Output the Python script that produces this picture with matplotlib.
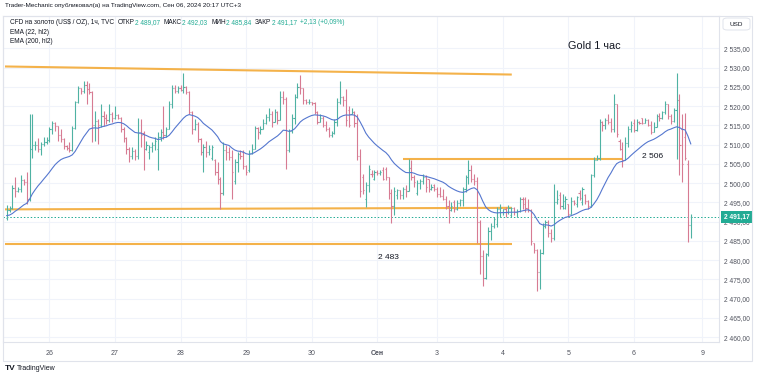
import matplotlib
matplotlib.use("Agg")
import matplotlib.pyplot as plt
import matplotlib.transforms as mtransforms
from matplotlib.collections import LineCollection
from matplotlib.patches import Rectangle, FancyBboxPatch
import numpy as np

plt.rcParams['font.family'] = ['Liberation Sans', 'DejaVu Sans']

# =============================================================================
# Data: XAUUSD 1h bars (open, high, low, close), one list per trading day
# =============================================================================
aug23 = [(2491.0, 2494.3, 2490.4, 2493.0), (2493.0, 2494.0, 2492.6, 2493.6), (2493.6, 2499.4, 2493.4, 2498.8),
         (2498.8, 2501.6, 2496.4, 2498.0), (2498.0, 2499.0, 2497.6, 2498.6), (2498.6, 2502.0, 2497.8, 2500.8),
         (2500.8, 2501.2, 2499.6, 2500.2), (2500.2, 2503.0, 2494.7, 2496.0), (2496.0, 2518.0, 2495.5, 2509.0),
         (2509.0, 2518.0, 2506.5, 2510.0), (2510.0, 2511.0, 2508.5, 2510.0), (2510.0, 2511.6, 2508.0, 2509.0),
         (2509.0, 2510.6, 2507.2, 2510.2), (2510.2, 2511.9, 2509.6, 2510.8), (2510.8, 2511.9, 2510.2, 2511.2)]
aug26 = [(2511.2, 2514.5, 2510.8, 2514.0), (2514.0, 2516.2, 2512.7, 2515.6), (2515.6, 2515.8, 2513.6, 2514.8),
         (2514.8, 2514.9, 2511.0, 2512.4), (2512.4, 2514.0, 2510.6, 2511.4), (2511.4, 2511.6, 2508.9, 2509.6),
         (2509.6, 2510.0, 2508.5, 2509.2), (2509.2, 2510.6, 2508.0, 2508.6), (2508.6, 2514.9, 2508.4, 2514.2),
         (2514.2, 2521.3, 2514.0, 2521.0), (2521.0, 2525.2, 2520.8, 2524.6), (2524.6, 2524.8, 2523.1, 2524.0),
         (2524.0, 2526.5, 2523.5, 2525.6), (2525.6, 2526.4, 2520.5, 2524.4), (2524.4, 2526.0, 2523.1, 2523.8),
         (2523.8, 2524.0, 2510.6, 2515.0), (2515.0, 2518.8, 2511.0, 2516.2), (2516.2, 2516.6, 2510.2, 2515.0),
         (2515.0, 2520.5, 2514.5, 2517.4), (2517.4, 2518.8, 2514.9, 2516.8), (2516.8, 2517.9, 2515.3, 2516.4),
         (2516.4, 2520.5, 2516.0, 2518.0), (2518.0, 2518.4, 2515.8, 2517.0)]
aug27 = [(2517.0, 2520.0, 2516.6, 2517.8), (2517.8, 2518.0, 2516.6, 2517.0), (2517.0, 2517.2, 2513.2, 2514.0),
         (2514.0, 2514.6, 2510.6, 2511.6), (2511.6, 2511.9, 2507.6, 2508.8), (2508.8, 2509.3, 2505.4, 2507.0),
         (2507.0, 2509.3, 2506.4, 2508.4), (2508.4, 2508.8, 2505.9, 2507.0), (2507.0, 2517.0, 2506.3, 2513.0),
         (2513.0, 2516.6, 2509.3, 2512.6), (2513.0, 2513.5, 2503.3, 2509.0), (2509.0, 2511.0, 2508.5, 2510.0),
         (2508.0, 2509.8, 2506.3, 2509.4), (2509.4, 2510.6, 2508.0, 2509.8), (2509.8, 2511.9, 2508.5, 2511.0),
         (2509.0, 2513.2, 2503.3, 2512.0), (2512.0, 2514.0, 2511.0, 2513.4), (2513.4, 2520.0, 2511.5, 2512.5),
         (2512.5, 2514.5, 2511.9, 2514.0), (2514.0, 2521.3, 2514.0, 2520.5), (2520.5, 2525.6, 2519.6, 2524.8),
         (2524.8, 2525.6, 2523.5, 2524.0), (2524.0, 2525.2, 2523.5, 2524.6)]
aug28 = [(2524.6, 2525.6, 2523.9, 2524.2), (2524.2, 2528.6, 2523.5, 2525.0), (2525.0, 2525.2, 2523.1, 2523.8),
         (2523.8, 2523.9, 2517.9, 2518.6), (2518.6, 2518.8, 2512.7, 2514.0), (2514.0, 2516.6, 2513.8, 2515.4),
         (2515.4, 2515.8, 2510.6, 2511.4), (2511.4, 2511.6, 2507.2, 2508.2), (2508.0, 2510.2, 2502.9, 2509.4),
         (2509.4, 2511.0, 2506.7, 2508.0), (2508.0, 2509.8, 2507.2, 2509.0), (2506.5, 2509.8, 2505.9, 2509.4),
         (2506.0, 2506.3, 2502.0, 2503.0), (2503.0, 2505.4, 2499.9, 2501.0), (2501.0, 2501.6, 2493.4, 2497.5),
         (2497.5, 2510.6, 2497.0, 2508.5), (2508.5, 2509.8, 2505.9, 2508.0), (2508.0, 2509.3, 2505.9, 2506.8),
         (2506.8, 2508.5, 2496.0, 2503.0), (2500.5, 2506.3, 2499.9, 2505.6), (2505.6, 2508.0, 2502.9, 2507.5),
         (2507.5, 2508.5, 2506.3, 2507.0), (2508.0, 2508.5, 2503.7, 2504.5)]
aug29 = [(2504.5, 2504.6, 2502.0, 2502.8), (2503.3, 2508.5, 2503.0, 2507.8), (2507.8, 2510.2, 2507.6, 2509.0),
         (2509.0, 2514.9, 2509.0, 2514.2), (2514.2, 2514.5, 2511.5, 2513.4), (2513.4, 2514.9, 2512.7, 2514.0),
         (2514.0, 2516.6, 2514.0, 2515.6), (2515.6, 2517.9, 2515.3, 2517.2), (2517.2, 2519.6, 2516.2, 2518.0),
         (2518.0, 2518.8, 2514.5, 2516.0), (2516.0, 2519.2, 2515.8, 2518.5), (2518.5, 2518.8, 2515.3, 2516.4),
         (2516.4, 2523.9, 2516.4, 2522.5), (2522.5, 2523.9, 2520.5, 2521.8), (2521.8, 2522.3, 2503.7, 2508.5),
         (2508.5, 2514.0, 2508.0, 2513.5), (2513.5, 2517.9, 2513.0, 2517.0), (2517.0, 2523.1, 2515.3, 2522.4),
         (2522.4, 2526.0, 2522.0, 2525.0), (2525.0, 2528.2, 2523.1, 2524.6), (2524.6, 2524.8, 2520.5, 2521.5),
         (2521.5, 2521.8, 2520.5, 2521.0), (2521.0, 2521.8, 2520.5, 2521.2)]
aug30 = [(2521.2, 2521.2, 2520.4, 2520.8), (2520.8, 2521.0, 2517.9, 2518.6), (2518.6, 2518.8, 2515.3, 2516.0),
         (2516.0, 2517.9, 2515.8, 2516.8), (2516.8, 2517.5, 2514.5, 2515.0), (2515.0, 2516.2, 2513.6, 2514.0),
         (2514.0, 2514.5, 2511.9, 2512.4), (2512.4, 2513.6, 2511.9, 2513.0), (2513.0, 2516.6, 2512.7, 2516.0),
         (2516.0, 2522.2, 2514.9, 2521.0), (2521.0, 2526.5, 2520.5, 2522.5), (2522.5, 2522.6, 2520.1, 2521.5),
         (2521.5, 2524.4, 2514.9, 2516.5), (2519.0, 2520.0, 2514.5, 2515.0), (2518.0, 2519.6, 2517.9, 2518.6),
         (2518.6, 2518.8, 2514.5, 2515.6), (2515.6, 2517.9, 2505.9, 2507.0), (2507.0, 2508.9, 2496.4, 2498.0),
         (2501.5, 2502.4, 2497.3, 2498.2), (2496.0, 2500.3, 2493.8, 2499.5), (2499.5, 2504.6, 2497.7, 2503.8),
         (2502.5, 2503.3, 2501.6, 2502.4), (2501.2, 2503.3, 2500.7, 2503.0)]
sep02 = [(2503.0, 2503.4, 2502.0, 2502.6), (2502.6, 2503.3, 2502.0, 2502.8), (2503.5, 2504.2, 2500.7, 2501.2),
         (2503.8, 2504.2, 2500.7, 2501.5), (2501.5, 2501.6, 2496.0, 2497.5), (2497.5, 2498.6, 2489.7, 2494.0),
         (2494.0, 2499.0, 2491.7, 2498.0), (2497.0, 2498.6, 2496.0, 2498.2), (2498.2, 2498.2, 2496.0, 2497.0),
         (2497.0, 2499.0, 2496.0, 2498.6), (2498.6, 2499.4, 2496.4, 2498.0), (2498.0, 2506.3, 2497.9, 2504.0),
         (2504.0, 2505.9, 2500.7, 2501.5), (2501.5, 2502.0, 2499.0, 2500.2), (2497.5, 2500.7, 2496.9, 2500.0),
         (2500.0, 2501.2, 2498.6, 2500.6), (2500.6, 2502.4, 2499.9, 2501.6), (2501.6, 2502.0, 2497.7, 2499.0),
         (2501.0, 2501.2, 2497.7, 2498.5), (2498.5, 2499.9, 2498.2, 2499.0), (2499.5, 2499.9, 2498.0, 2498.4)]
sep03 = [(2498.4, 2499.0, 2496.4, 2497.2), (2497.2, 2499.0, 2496.4, 2496.8), (2496.8, 2498.6, 2495.6, 2496.0),
         (2496.0, 2496.8, 2493.4, 2494.2), (2494.2, 2495.6, 2489.6, 2493.0), (2493.0, 2495.1, 2492.8, 2494.0),
         (2495.0, 2495.6, 2492.6, 2493.2), (2493.2, 2495.6, 2493.0, 2494.8), (2494.8, 2496.0, 2494.0, 2495.6),
         (2495.6, 2499.0, 2494.0, 2498.5), (2498.5, 2502.0, 2497.7, 2501.5), (2501.5, 2505.9, 2499.9, 2503.5),
         (2503.5, 2504.6, 2500.3, 2501.0), (2501.0, 2502.4, 2499.4, 2500.5), (2500.5, 2501.6, 2484.4, 2490.0),
         (2490.0, 2490.5, 2476.5, 2481.0), (2481.0, 2482.7, 2473.2, 2475.5), (2475.5, 2482.0, 2475.0, 2481.5),
         (2481.5, 2488.7, 2481.0, 2487.5), (2487.5, 2489.6, 2485.3, 2489.0), (2489.0, 2491.3, 2488.3, 2490.6),
         (2489.5, 2493.8, 2488.7, 2493.2), (2493.2, 2494.7, 2491.3, 2493.5)]
sep04 = [(2492.6, 2493.4, 2491.7, 2493.2), (2493.2, 2493.9, 2491.3, 2492.5), (2492.5, 2494.3, 2492.1, 2493.6),
         (2491.8, 2493.9, 2491.3, 2493.5), (2493.5, 2493.9, 2491.7, 2492.4), (2492.4, 2493.4, 2491.3, 2492.8),
         (2492.8, 2496.4, 2492.6, 2495.8), (2495.8, 2496.4, 2493.4, 2494.6), (2496.0, 2496.4, 2492.6, 2493.5),
         (2493.5, 2496.0, 2492.6, 2493.0), (2493.0, 2493.4, 2484.0, 2485.0), (2484.5, 2484.6, 2481.8, 2482.6),
         (2482.6, 2483.0, 2471.9, 2477.0), (2477.0, 2482.8, 2472.5, 2482.0), (2482.0, 2489.6, 2481.6, 2489.0),
         (2489.0, 2490.4, 2488.3, 2489.8), (2490.0, 2490.4, 2486.1, 2487.0), (2487.0, 2488.0, 2484.8, 2485.8),
         (2485.8, 2499.9, 2485.3, 2495.0), (2495.0, 2498.2, 2494.6, 2496.0), (2497.0, 2497.7, 2493.4, 2494.0),
         (2494.0, 2497.3, 2493.4, 2495.5), (2493.5, 2496.8, 2493.4, 2496.0)]
sep05 = [(2494.7, 2494.7, 2491.3, 2492.0), (2492.0, 2496.4, 2491.9, 2495.5), (2495.5, 2495.6, 2494.3, 2494.8),
         (2494.5, 2496.8, 2493.8, 2496.5), (2497.5, 2498.2, 2495.6, 2496.2), (2495.0, 2499.0, 2494.3, 2498.4),
         (2497.0, 2497.3, 2494.7, 2495.5), (2495.5, 2495.6, 2493.4, 2494.0), (2494.0, 2502.4, 2493.8, 2502.0),
         (2502.0, 2506.7, 2501.6, 2506.0), (2506.0, 2507.2, 2505.9, 2506.5), (2506.5, 2516.6, 2505.9, 2516.0),
         (2516.0, 2516.2, 2513.6, 2515.0), (2515.0, 2517.0, 2514.0, 2516.4), (2516.4, 2517.9, 2515.3, 2516.0),
         (2516.0, 2517.0, 2513.2, 2514.0), (2514.0, 2523.1, 2513.2, 2520.5), (2520.5, 2520.5, 2511.9, 2512.8),
         (2511.0, 2511.4, 2508.5, 2509.0), (2509.0, 2510.6, 2504.2, 2506.0), (2506.0, 2511.9, 2505.9, 2510.5),
         (2510.5, 2514.9, 2509.3, 2514.0), (2514.0, 2516.2, 2513.2, 2515.0)]
sep06 = [(2515.6, 2516.6, 2513.2, 2513.8), (2513.8, 2516.6, 2513.6, 2516.0), (2516.0, 2516.2, 2515.3, 2515.6),
         (2516.8, 2517.0, 2515.3, 2515.6), (2515.6, 2517.0, 2515.5, 2516.4), (2516.4, 2516.6, 2514.9, 2515.2),
         (2515.2, 2516.2, 2512.7, 2513.2), (2513.2, 2515.8, 2513.2, 2514.6), (2514.6, 2517.9, 2514.5, 2517.5),
         (2517.5, 2518.3, 2516.2, 2517.0), (2517.0, 2518.8, 2516.6, 2518.4), (2518.4, 2521.3, 2517.9, 2520.5),
         (2520.5, 2520.5, 2516.6, 2517.5), (2517.5, 2517.9, 2515.3, 2516.2), (2516.2, 2519.6, 2516.0, 2519.0),
         (2519.0, 2528.6, 2506.3, 2521.5), (2521.5, 2523.1, 2502.0, 2510.0), (2514.0, 2517.9, 2500.3, 2505.0),
         (2512.0, 2518.3, 2505.9, 2506.5), (2505.0, 2505.9, 2484.8, 2489.04), (2489.07, 2492.03, 2485.84, 2491.17)]

days = [aug23, aug26, aug27, aug28, aug29, aug30, sep02, sep03, sep04, sep05, sep06]
day_labels = ["26", "27", "28", "29", "30", "Сен", "3", "4", "5", "6"]
next_day_label = "9"          # Monday, after 3 more hourly slots on Friday
next_day_gap = 3

ema_len = 22                  # EMA (22, hl2)
ema_seed = 2491.5             # EMA value at the left edge of the screenshot

# hand-drawn levels: (bar index, price) endpoints
level_top = [(-0.6, 2530.3), (177.2, 2528.2)]
level_mid = [(-0.6, 2493.2), (177.2, 2493.6)]
level_low = [(-0.6, 2484.1), (177.2, 2484.1)]
level_2506 = [(139.2, 2506.4), (215.8, 2506.4)]

price_ticks = np.arange(2460, 2536, 5)

# =============================================================================
# Prepare arrays
# =============================================================================
bars = np.array([b for d in days for b in d])
opens, highs, lows, closes = bars.T
n = len(bars)
idx = np.arange(n)

starts = np.cumsum([len(d) for d in days])[:-1]
xticks = list(starts) + [n + next_day_gap]
xlabels = day_labels + [next_day_label]

hl2 = (highs + lows) / 2
alpha = 2 / (ema_len + 1)
ema = []
prev = ema_seed
for v in hl2:
    prev = prev + alpha * (v - prev)
    ema.append(prev)


def fmt_price(v):
    return f"{v:,.2f}".replace(",", " ").replace(".", ",")


# =============================================================================
# Figure
# =============================================================================
W, H = 758, 379
fig = plt.figure(figsize=(W / 100, H / 100), dpi=100)
ax = fig.add_axes([3 / W, 1 - 341.5 / H, (719 - 3) / W, (341.5 - 16) / H])

GREEN = '#4fb2a3'
RED = '#d77b92'
TEAL = '#22ab94'
TXT = '#131722'
AXTXT = '#50535e'
GRID = '#f0f3fa'
BORDER = '#e0e3eb'

ax.set_xlim(-1.3, 249.9)
ax.set_ylim(2458.9, 2543.4)

# OHLC bars
tk = 0.4
segs, cols = [], []
for i in idx:
    c = GREEN if closes[i] >= opens[i] else RED
    segs += [[(i, lows[i]), (i, highs[i])],
             [(i - tk, opens[i]), (i, opens[i])],
             [(i, closes[i]), (i + tk, closes[i])]]
    cols += [c] * 3
ax.add_collection(LineCollection(segs, colors=cols, linewidths=0.8, zorder=3))

# EMA line
ax.plot(idx, ema, color='#5577cf', lw=0.8, zorder=4)

# orange levels
for lv in [level_top, level_mid, level_low, level_2506]:
    xs, ys = zip(*lv)
    ax.plot(xs, ys, color='#f4b24a', lw=1.5, solid_capstyle='butt', zorder=2)

# last price line
ax.axhline(closes[-1], color=TEAL, lw=0.7, ls=(0, (1.5, 2)), zorder=1)

ax.text(130.3, 2480.6, "2 483", fontsize=6, color=TXT, va='center', ha='left')
ax.text(222.9, 2506.8, "2 506", fontsize=6, color=TXT, va='center', ha='left')
ax.text(196.9, 2535.6, "Gold 1 час", fontsize=7.8, color=TXT, va='center', ha='left')

# axes styling
ax.set_xticks(xticks, xlabels)
ax.set_yticks(price_ticks, [fmt_price(v) for v in price_ticks])
ax.yaxis.tick_right()
ax.tick_params(axis='x', length=0, pad=5.8, labelsize=5.0, labelcolor=AXTXT)
ax.tick_params(axis='y', length=0, pad=3.6, labelsize=4.8, labelcolor=AXTXT)
for lab in ax.get_xticklabels():
    if lab.get_text() == "Сен":
        lab.set_fontweight('bold')
ax.grid(True, color=GRID, lw=0.8)
ax.set_axisbelow(True)
for s in ax.spines.values():
    s.set_color(BORDER)
    s.set_linewidth(0.8)

# outer frame around chart, price scale and time scale
fig.patches.append(Rectangle((3 / W, 1 - 360.5 / H), 749 / W, 344.5 / H,
                             transform=fig.transFigure, fill=False, ec=BORDER, lw=0.8))

# last price tag on the price scale
blend = mtransforms.blended_transform_factory(ax.transAxes, ax.transData)
ax.text(1.0 + 4.5 / 716, closes[-1], fmt_price(closes[-1]), transform=blend, clip_on=False,
        ha='left', va='center', fontsize=4.8, color='white', fontweight='bold', zorder=6,
        bbox=dict(boxstyle='square,pad=0.35', fc=TEAL, ec='none'))

# USD box
fig.patches.append(FancyBboxPatch((723 / W, 1 - 30 / H), 27 / W, 12 / H,
                                  boxstyle='round,pad=0,rounding_size=0.006',
                                  transform=fig.transFigure, fc='white', ec=BORDER, lw=0.7))
fig.text(736.5 / W, 1 - 24 / H, "USD", fontsize=4.6, color=TXT, ha='center', va='center')

# header text
fig.canvas.draw()
rend = fig.canvas.get_renderer()


def put(x, y, s, color, size=4.7, **kw):
    t = fig.text(x / W, 1 - y / H, s, color=color, fontsize=size, ha='left', va='center', **kw)
    return x + t.get_window_extent(renderer=rend).width


fig.text(5 / W, 1 - 6 / H, "Trader-Mechanic опубликовал(а) на TradingView.com, Сен 06, 2024 20:17 UTC+3",
         fontsize=4.6, color=TXT, ha='left', va='center')

chg = closes[-1] - closes[-2]
pct = chg / closes[-2] * 100
x = put(10, 23, "CFD на золото (US$ / OZ), 1ч, TVC", TXT) + 3.5
for lab, val in [("ОТКР", opens[-1]), ("МАКС", highs[-1]), ("МИН", lows[-1]), ("ЗАКР", closes[-1])]:
    x = put(x, 23, lab, TXT) + 0.5
    x = put(x, 23, fmt_price(val), TEAL) + 3.5
put(x, 23, f"+{chg:.2f} (+{pct:.2f}%)".replace(".", ","), TEAL)
put(10, 32.5, "EMA (22, hl2)", TXT)
put(10, 41.5, "EMA (200, hl2)", TXT)

# TradingView logo line
fig.text(5 / W, 1 - 369 / H, "TV", fontsize=6, fontweight='bold', color=TXT, ha='left', va='center')
fig.text(17 / W, 1 - 369 / H, "TradingView", fontsize=5.0, color=TXT, ha='left', va='center')

fig.savefig("out.png", dpi=100)
